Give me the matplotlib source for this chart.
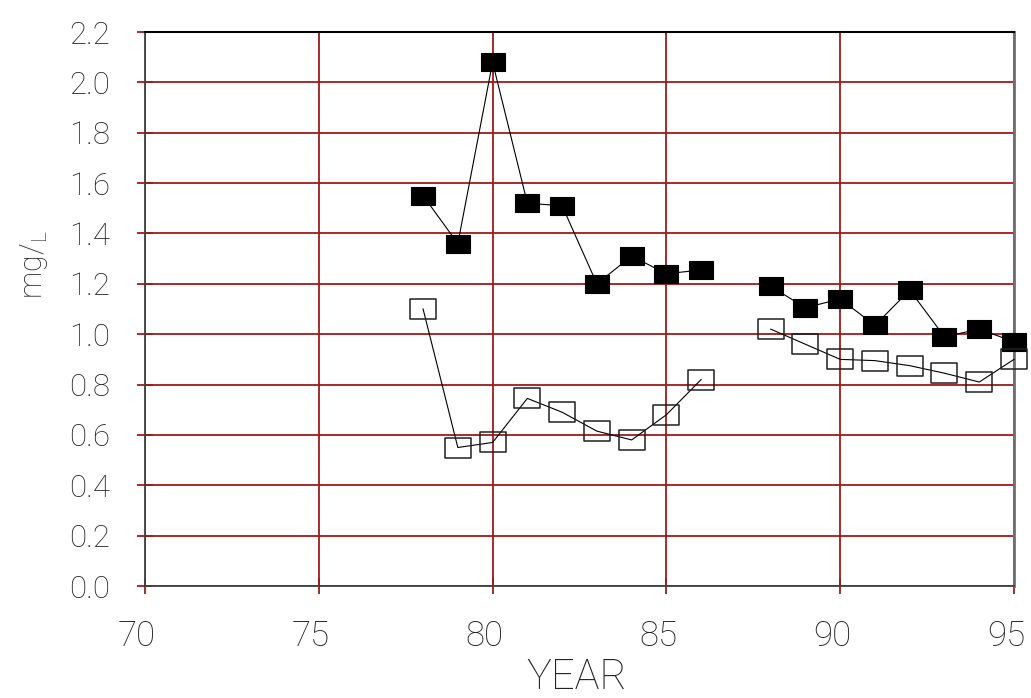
import numpy as np
import matplotlib
matplotlib.use("Agg")
import matplotlib.pyplot as plt
from matplotlib.path import Path
from matplotlib.transforms import ScaledTranslation

# Annual mean concentrations (mg/L); 1987 was not sampled
years = [78, 79, 80, 81, 82, 83, 84, 85, 86, 87, 88, 89, 90, 91, 92, 93, 94, 95]
series_filled = [1.55, 1.36, 2.08, 1.52, 1.51, 1.20, 1.31, 1.24, 1.255, np.nan,
                 1.19, 1.105, 1.14, 1.035, 1.175, 0.99, 1.02, 0.97]
series_open = [1.10, 0.55, 0.57, 0.745, 0.69, 0.615, 0.58, 0.68, 0.82, np.nan,
               1.02, 0.96, 0.90, 0.895, 0.875, 0.845, 0.81, 0.90]

x_ticks = [70, 75, 80, 85, 90, 95]
y_ticks = [0.0, 0.2, 0.4, 0.6, 0.8, 1.0, 1.2, 1.4, 1.6, 1.8, 2.0, 2.2]
y_tick_labels = [f"{v:.1f}" for v in y_ticks]

plt.rcParams["font.family"] = ["Roboto", "DejaVu Sans"]
plt.rcParams["font.weight"] = "light"
plt.rcParams["mathtext.default"] = "regular"

GRID_RED = "#9e1a1a"

fig = plt.figure(figsize=(10.31, 6.98), dpi=100)
ax = fig.add_axes([145 / 1031, 1 - 586 / 698, (1014 - 145) / 1031, (586 - 32) / 698])

# wide rectangular marker
rect = Path([(-1, -0.75), (1, -0.75), (1, 0.75), (-1, 0.75), (-1, -0.75)],
            [Path.MOVETO, Path.LINETO, Path.LINETO, Path.LINETO, Path.CLOSEPOLY])

ax.plot(years, series_filled, color="black", lw=0.8, marker=rect, markersize=16.6,
        markerfacecolor="black", markeredgecolor="black", markeredgewidth=0.8,
        zorder=3, clip_on=False)
ax.plot(years, series_open, color="black", lw=0.8, marker=rect, markersize=18.6,
        markerfacecolor="none", markeredgecolor="#202020", markeredgewidth=1.1,
        zorder=3, clip_on=False)

ax.set_xlim(70, 95)
ax.set_ylim(0, 2.2)
ax.set_xticks(x_ticks)
ax.set_xticklabels([str(t) for t in x_ticks])
ax.set_yticks(y_ticks)
ax.set_yticklabels(y_tick_labels)

ax.set_axisbelow(True)
ax.grid(True, color=GRID_RED, lw=1.3)
ax.tick_params(axis="both", direction="inout", length=11.5, width=1.3,
               color=GRID_RED, labelcolor="#222222")
ax.tick_params(axis="x", pad=18.5, labelsize=25)
ax.tick_params(axis="y", pad=19.4, labelsize=22.5)

for lab in ax.get_xticklabels():
    lab.set_transform(lab.get_transform() + ScaledTranslation(-8 / 100, 0, fig.dpi_scale_trans))

ax.spines["top"].set_color("black")
ax.spines["top"].set_linewidth(1.5)
ax.spines["left"].set_color("#404040")
ax.spines["left"].set_linewidth(1.3)
ax.spines["bottom"].set_color("#404040")
ax.spines["bottom"].set_linewidth(1.3)
ax.spines["right"].set_color("#707070")
ax.spines["right"].set_linewidth(2.0)

fig.text(576.5 / 1031, 1 - 689 / 698, "YEAR", ha="center", va="baseline",
         fontsize=30, color="#222222")
fig.text(34 / 1031, 1 - 265 / 698, r"mg/$_{\mathregular{L}}$", ha="center", va="center",
         rotation=90, fontsize=22, color="#222222")

fig.savefig("out.png", dpi=100)
